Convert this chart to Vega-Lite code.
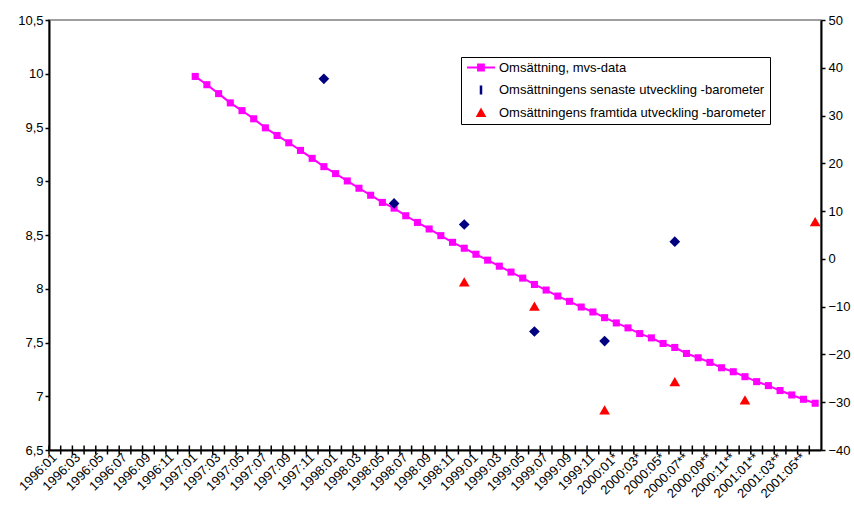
{
  "$schema": "https://vega.github.io/schema/vega-lite/v6.json",
  "width": 772,
  "height": 430,
  "autosize": "none",
  "padding": {"left": 49, "top": 20, "right": 33, "bottom": 57},
  "background": "white",
  "config": {
    "font": "Liberation Sans",
    "view": {"stroke": "#808080", "strokeWidth": 1.5},
    "axis": {
      "domainColor": "#000000",
      "domainWidth": 2,
      "ticks": true,
      "tickColor": "#000000",
      "tickWidth": 1.5,
      "tickSize": 4,
      "labelFont": "Liberation Sans",
      "labelFontSize": 13,
      "labelColor": "#000000",
      "grid": false,
      "title": null
    }
  },
  "data": {
    "values": [
      {"month": "1996:01", "oms": null, "senaste": null, "framtida": null},
      {"month": "1996:02", "oms": null, "senaste": null, "framtida": null},
      {"month": "1996:03", "oms": null, "senaste": null, "framtida": null},
      {"month": "1996:04", "oms": null, "senaste": null, "framtida": null},
      {"month": "1996:05", "oms": null, "senaste": null, "framtida": null},
      {"month": "1996:06", "oms": null, "senaste": null, "framtida": null},
      {"month": "1996:07", "oms": null, "senaste": null, "framtida": null},
      {"month": "1996:08", "oms": null, "senaste": null, "framtida": null},
      {"month": "1996:09", "oms": null, "senaste": null, "framtida": null},
      {"month": "1996:10", "oms": null, "senaste": null, "framtida": null},
      {"month": "1996:11", "oms": null, "senaste": null, "framtida": null},
      {"month": "1996:12", "oms": null, "senaste": null, "framtida": null},
      {"month": "1997:01", "oms": 9.975, "senaste": null, "framtida": null},
      {"month": "1997:02", "oms": 9.898, "senaste": null, "framtida": null},
      {"month": "1997:03", "oms": 9.815, "senaste": null, "framtida": null},
      {"month": "1997:04", "oms": 9.729, "senaste": null, "framtida": null},
      {"month": "1997:05", "oms": 9.657, "senaste": null, "framtida": null},
      {"month": "1997:06", "oms": 9.581, "senaste": null, "framtida": null},
      {"month": "1997:07", "oms": 9.497, "senaste": null, "framtida": null},
      {"month": "1997:08", "oms": 9.426, "senaste": null, "framtida": null},
      {"month": "1997:09", "oms": 9.358, "senaste": null, "framtida": null},
      {"month": "1997:10", "oms": 9.287, "senaste": null, "framtida": null},
      {"month": "1997:11", "oms": 9.213, "senaste": null, "framtida": null},
      {"month": "1997:12", "oms": 9.136, "senaste": 37.7, "framtida": null},
      {"month": "1998:01", "oms": 9.071, "senaste": null, "framtida": null},
      {"month": "1998:02", "oms": 9.003, "senaste": null, "framtida": null},
      {"month": "1998:03", "oms": 8.935, "senaste": null, "framtida": null},
      {"month": "1998:04", "oms": 8.870, "senaste": null, "framtida": null},
      {"month": "1998:05", "oms": 8.803, "senaste": null, "framtida": null},
      {"month": "1998:06", "oms": 8.750, "senaste": 11.6, "framtida": null},
      {"month": "1998:07", "oms": 8.679, "senaste": null, "framtida": null},
      {"month": "1998:08", "oms": 8.617, "senaste": null, "framtida": null},
      {"month": "1998:09", "oms": 8.556, "senaste": null, "framtida": null},
      {"month": "1998:10", "oms": 8.494, "senaste": null, "framtida": null},
      {"month": "1998:11", "oms": 8.432, "senaste": null, "framtida": null},
      {"month": "1998:12", "oms": 8.377, "senaste": 7.2, "framtida": -4.8},
      {"month": "1999:01", "oms": 8.321, "senaste": null, "framtida": null},
      {"month": "1999:02", "oms": 8.266, "senaste": null, "framtida": null},
      {"month": "1999:03", "oms": 8.210, "senaste": null, "framtida": null},
      {"month": "1999:04", "oms": 8.155, "senaste": null, "framtida": null},
      {"month": "1999:05", "oms": 8.099, "senaste": null, "framtida": null},
      {"month": "1999:06", "oms": 8.040, "senaste": -15.2, "framtida": -9.9},
      {"month": "1999:07", "oms": 7.988, "senaste": null, "framtida": null},
      {"month": "1999:08", "oms": 7.932, "senaste": null, "framtida": null},
      {"month": "1999:09", "oms": 7.883, "senaste": null, "framtida": null},
      {"month": "1999:10", "oms": 7.830, "senaste": null, "framtida": null},
      {"month": "1999:11", "oms": 7.784, "senaste": null, "framtida": null},
      {"month": "1999:12", "oms": 7.731, "senaste": -17.2, "framtida": -31.6},
      {"month": "2000:01*", "oms": 7.682, "senaste": null, "framtida": null},
      {"month": "2000:02*", "oms": 7.636, "senaste": null, "framtida": null},
      {"month": "2000:03*", "oms": 7.583, "senaste": null, "framtida": null},
      {"month": "2000:04*", "oms": 7.543, "senaste": null, "framtida": null},
      {"month": "2000:05*", "oms": 7.491, "senaste": null, "framtida": null},
      {"month": "2000:06*", "oms": 7.454, "senaste": 3.6, "framtida": -25.7},
      {"month": "2000:07**", "oms": 7.398, "senaste": null, "framtida": null},
      {"month": "2000:08**", "oms": 7.358, "senaste": null, "framtida": null},
      {"month": "2000:09**", "oms": 7.315, "senaste": null, "framtida": null},
      {"month": "2000:10**", "oms": 7.265, "senaste": null, "framtida": null},
      {"month": "2000:11**", "oms": 7.228, "senaste": null, "framtida": null},
      {"month": "2000:12**", "oms": 7.182, "senaste": null, "framtida": -29.5},
      {"month": "2001:01**", "oms": 7.136, "senaste": null, "framtida": null},
      {"month": "2001:02**", "oms": 7.099, "senaste": null, "framtida": null},
      {"month": "2001:03**", "oms": 7.053, "senaste": null, "framtida": null},
      {"month": "2001:04**", "oms": 7.012, "senaste": null, "framtida": null},
      {"month": "2001:05**", "oms": 6.972, "senaste": null, "framtida": null},
      {"month": "2001:06**", "oms": 6.935, "senaste": null, "framtida": 7.8}
    ]
  },
  "layer": [
    {
      "layer": [
        {
          "mark": {"type": "tick", "orient": "vertical", "color": "#000000", "thickness": 1.5, "size": 9, "opacity": 1},
          "encoding": {
            "x": {"field": "month", "type": "ordinal", "bandPosition": 0,
              "scale": {"type": "band", "paddingInner": 0, "paddingOuter": 0,
                "domain": ["1996:01","1996:02","1996:03","1996:04","1996:05","1996:06","1996:07","1996:08","1996:09","1996:10","1996:11","1996:12","1997:01","1997:02","1997:03","1997:04","1997:05","1997:06","1997:07","1997:08","1997:09","1997:10","1997:11","1997:12","1998:01","1998:02","1998:03","1998:04","1998:05","1998:06","1998:07","1998:08","1998:09","1998:10","1998:11","1998:12","1999:01","1999:02","1999:03","1999:04","1999:05","1999:06","1999:07","1999:08","1999:09","1999:10","1999:11","1999:12","2000:01*","2000:02*","2000:03*","2000:04*","2000:05*","2000:06*","2000:07**","2000:08**","2000:09**","2000:10**","2000:11**","2000:12**","2001:01**","2001:02**","2001:03**","2001:04**","2001:05**","2001:06**"]},
              "axis": {"bandPosition": 0, "ticks": false,
                "labelAngle": -45, "labelAlign": "right", "labelBaseline": "middle",
                "labelExpr": "toNumber(substring(datum.label,5,7)) % 2 == 1 ? datum.label : ''",
                "labelOverlap": false, "labelBound": false, "labelPadding": 5, "title": null}},
            "y": {"datum": 6.5, "type": "quantitative",
              "scale": {"domain": [6.5, 10.5], "nice": false, "zero": false},
              "axis": {"orient": "left", "values": [6.5, 7, 7.5, 8, 8.5, 9, 9.5, 10, 10.5],
                "labelExpr": "replace(format(datum.value, '~g'), '.', ',')", "labelPadding": 2, "title": null}}
          }
        },
        {
          "mark": {"type": "line", "color": "#FF00FF", "strokeWidth": 2,
            "point": {"shape": "square", "size": 50, "filled": true, "color": "#FF00FF", "opacity": 1}},
          "encoding": {
            "x": {"field": "month", "type": "ordinal"},
            "y": {"field": "oms", "type": "quantitative"}
          }
        }
      ]
    },
    {
      "layer": [
        {
          "mark": {"type": "point", "shape": "diamond", "filled": true, "color": "#000080", "size": 115, "opacity": 1},
          "encoding": {
            "x": {"field": "month", "type": "ordinal"},
            "y": {"field": "senaste", "type": "quantitative",
              "scale": {"domain": [-40, 50], "nice": false, "zero": false},
              "axis": {"orient": "right", "values": [-40, -30, -20, -10, 0, 10, 20, 30, 40, 50], "labelPadding": 3, "title": null}}
          }
        },
        {
          "mark": {"type": "point", "shape": "triangle-up", "filled": true, "color": "#FF0000", "size": 115, "opacity": 1},
          "encoding": {
            "x": {"field": "month", "type": "ordinal"},
            "y": {"field": "framtida", "type": "quantitative"}
          }
        }
      ]
    },
    {
      "data": {"values": [
        {"series": "Omsättning, mvs-data"},
        {"series": "Omsättningens senaste utveckling -barometer"},
        {"series": "Omsättningens framtida utveckling -barometer"}
      ]},
      "mark": {"type": "point", "filled": true, "opacity": 0},
      "encoding": {
        "color": {"field": "series", "type": "nominal",
          "scale": {"domain": ["Omsättning, mvs-data", "Omsättningens senaste utveckling -barometer", "Omsättningens framtida utveckling -barometer"],
            "range": ["#FF00FF", "#000080", "#FF0000"]},
          "legend": {"title": null, "orient": "none", "legendX": 412, "legendY": 37, "padding": 4,
            "strokeColor": "#000000", "fillColor": "#ffffff", "symbolSize": 784, "symbolOffset": 2,
            "symbolOpacity": 1, "symbolStrokeWidth": 0, "labelOffset": 4, "labelFont": "Liberation Sans",
            "labelFontSize": 13, "labelColor": "#000000", "labelLimit": 400, "clipHeight": 13, "rowPadding": 8.5}},
        "shape": {"field": "series", "type": "nominal",
          "scale": {"domain": ["Omsättning, mvs-data", "Omsättningens senaste utveckling -barometer", "Omsättningens framtida utveckling -barometer"],
            "range": ["M-1,-0.07H1V0.07H-1Z M-0.28,-0.28H0.28V0.28H-0.28Z", "M-0.09,-0.32H0.09V0.32H-0.09Z", "M-0.38,0.33L0,-0.35L0.38,0.33Z"]},
          "legend": {"title": null, "orient": "none", "legendX": 412, "legendY": 37, "padding": 4,
            "strokeColor": "#000000", "fillColor": "#ffffff", "symbolSize": 784, "symbolOffset": 2,
            "symbolOpacity": 1, "symbolStrokeWidth": 0, "labelOffset": 4, "labelFont": "Liberation Sans",
            "labelFontSize": 13, "labelColor": "#000000", "labelLimit": 400, "clipHeight": 13, "rowPadding": 8.5}}
      }
    }
  ],
  "resolve": {"scale": {"y": "independent"}}
}
